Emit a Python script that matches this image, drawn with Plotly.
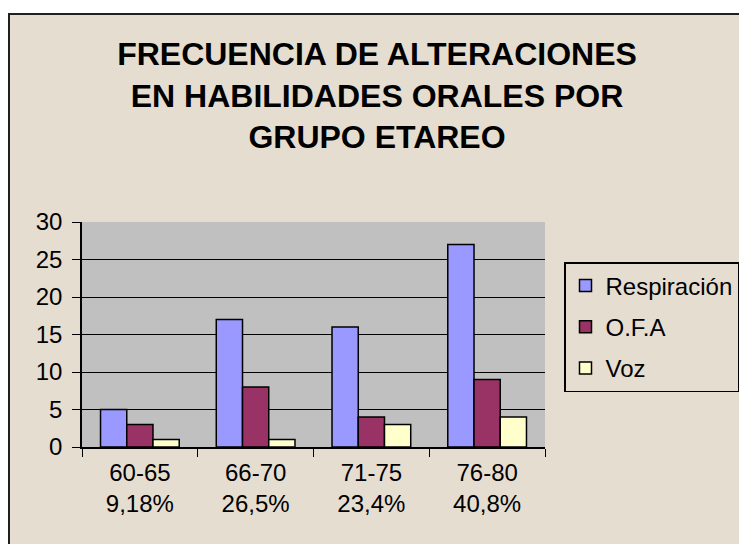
import plotly.graph_objects as go

# datos
grupos = ["60-65", "66-70", "71-75", "76-80"]
porcentajes = ["9,18%", "26,5%", "23,4%", "40,8%"]
respiracion = [5, 17, 16, 27]
ofa = [3, 8, 4, 9]
voz = [1, 1, 3, 4]

etiquetas = [g + "<br>" + p for g, p in zip(grupos, porcentajes)]
fuente = "Liberation Sans, Arial, sans-serif"

# zona de trazado (px dentro de la figura)
izq, der, arriba, abajo = 74, 537, 214, 439
ancho_p, alto_p = der - izq, abajo - arriba


def px_x(v):
    return (v - izq) / ancho_p


def px_y(v):
    return (abajo - v) / alto_p


fig = go.Figure()
series = [
    ("Respiración", respiracion, "#9999FF"),
    ("O.F.A", ofa, "#993366"),
    ("Voz", voz, "#FFFFCC"),
]
for nombre, valores, color in series:
    fig.add_trace(go.Bar(
        x=etiquetas,
        y=valores,
        name=nombre,
        legendgroup=nombre,
        marker=dict(color=color, line=dict(color="black", width=1.5)),
    ))

# franjas blancas fuera del marco y el marco negro
blanco = dict(fillcolor="white", line=dict(width=0), layer="below")
fig.add_shape(type="rect", xref="paper", yref="paper",
              x0=px_x(-10), x1=px_x(760), y0=px_y(6), y1=px_y(-10), **blanco)
fig.add_shape(type="rect", xref="paper", yref="paper",
              x0=px_x(737), x1=px_x(760), y0=px_y(560), y1=px_y(-10), **blanco)
fig.add_shape(type="rect", xref="paper", yref="paper",
              x0=px_x(1), x1=px_x(737), y0=px_y(560), y1=px_y(6),
              line=dict(color="#202020", width=2), layer="above")

fig.update_layout(
    width=747,
    height=544,
    margin=dict(l=izq, r=747 - der, t=arriba, b=544 - abajo),
    paper_bgcolor="#E6DDD1",
    plot_bgcolor="#C0C0C0",
    font=dict(family=fuente, size=24, color="black"),
    title=dict(
        text="FRECUENCIA DE ALTERACIONES<br>EN HABILIDADES ORALES POR<br>GRUPO ETAREO",
        font=dict(family=fuente, size=32, color="black", weight="bold"),
        x=369 / 747, xanchor="center", xref="container",
        y=1 - 57 / 544, yanchor="top", yref="container",
    ),
    barmode="group",
    bargap=0.32,
    bargroupgap=0,
    legend=dict(
        x=556 / 747, xref="container", xanchor="left",
        y=1 - 254 / 544, yref="container", yanchor="top",
        bgcolor="rgba(0,0,0,0)",
        bordercolor="black", borderwidth=1.5,
        font=dict(size=24),
        traceorder="grouped",
        tracegroupgap=7,
        itemwidth=30,
    ),
    xaxis=dict(
        showline=True, linecolor="black", linewidth=1.5,
        ticks="outside", tickson="boundaries", ticklen=8, tickcolor="black",
        ticklabelstandoff=3,
        showgrid=False,
    ),
    yaxis=dict(
        range=[0, 30], dtick=5,
        showline=True, linecolor="black", linewidth=1.5,
        ticks="outside", ticklen=8, tickcolor="black",
        ticklabelstandoff=5,
        showgrid=True, gridcolor="black", gridwidth=1,
        zeroline=False,
    ),
)

fig.write_html("out.html")
